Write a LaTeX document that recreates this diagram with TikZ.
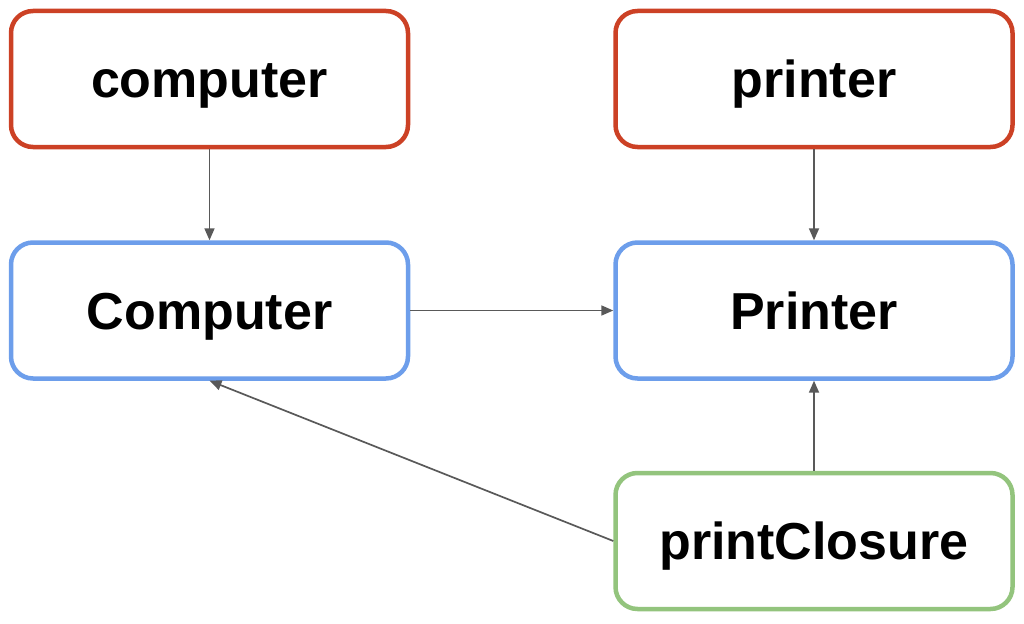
\documentclass[tikz,border=0pt]{standalone}
\usepackage{fontspec}
\setmainfont{Liberation Sans}
\usetikzlibrary{arrows.meta}
\definecolor{redb}{HTML}{CC4125}
\definecolor{blueb}{HTML}{6D9EEB}
\definecolor{greenb}{HTML}{93C47D}
\definecolor{arr}{HTML}{595959}
\tikzset{
  box/.style={draw, line width=4.5pt, rounded corners=22pt, minimum width=397pt, minimum height=136pt, inner sep=0pt, outer sep=2.2pt, font=\fontsize{52}{60}\selectfont\bfseries, text height=37pt, text depth=0pt, fill=white},
  redbox/.style={box, draw=redb},
  bluebox/.style={box, draw=blueb},
  greenbox/.style={box, draw=greenb},
  conn/.style={draw=arr, line width=1.7pt, -{Triangle[length=12pt,width=10pt]}}
}
\begin{document}
\begin{tikzpicture}[x=1pt,y=-1pt]
\useasboundingbox (0,0) rectangle (1024,623);
\node[redbox] (c) at (209.5,79) {computer};
\node[redbox] (p) at (814,79) {printer};
\node[bluebox] (C) at (209.5,310.5) {Computer};
\node[bluebox] (P) at (814,310.5) {Printer};
\node[greenbox] (pc) at (814,541) {printClosure};
\draw[conn] (c) -- (C);
\draw[conn] (p) -- (P);
\draw[conn] (C) -- (P);
\draw[conn] (pc) -- (P);
\draw[conn] (pc.west) -- (C.south);
\end{tikzpicture}
\end{document}
